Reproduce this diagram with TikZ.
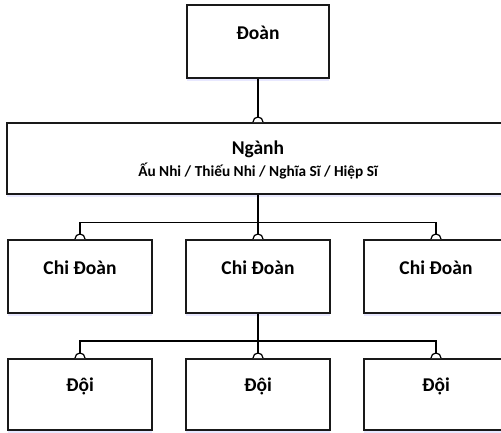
\documentclass[tikz,border=0pt]{standalone}
\usepackage{fontspec}
\setmainfont{Carlito}
\usetikzlibrary{shadows}
\begin{document}
\begin{tikzpicture}[x=1pt,y=-1pt,
  box/.style={draw=black!90, line width=1.8pt, fill=white, minimum width=144pt, minimum height=73pt, anchor=north, inner sep=0pt,
    drop shadow={opacity=0.45, fill=blue!20!white, shadow xshift=0pt, shadow yshift=-3.5pt}},
  lbl/.style={font=\bfseries\fontsize{19.5}{22}\selectfont, anchor=center},
  conn/.style={draw=black, line width=1.4pt},
  jump/.style={draw=black, line width=1.2pt}]
\useasboundingbox (0,0) rectangle (501,432);
% boxes
\node[box, minimum width=142pt] (doan) at (258,4) {};
\node[box, minimum width=502pt, minimum height=71pt] (nganh) at (258,122) {};
\node[box] (c1) at (80,239) {};
\node[box] (c2) at (258,239) {};
\node[box] (c3) at (436,239) {};
\node[box, minimum height=71pt] (d1) at (80,358) {};
\node[box, minimum height=71pt] (d2) at (258,358) {};
\node[box, minimum height=71pt] (d3) at (436,358) {};
% labels
\node[lbl] (tdoan) at (258,33) {Đoàn};
\node[lbl] (tnganh) at (258,149) {Ngành};
\node[font=\bfseries\fontsize{15.3}{17}\selectfont] (tsub) at (258,171) {Ấu Nhi / Thiếu Nhi / Nghĩa Sĩ / Hiệp Sĩ};
\node[lbl] (tc1) at (80,268) {Chi Đoàn};
\node[lbl] (tc2) at (258,268) {Chi Đoàn};
\node[lbl] (tc3) at (436,268) {Chi Đoàn};
\node[lbl] (td1) at (80,386) {Đội};
\node[lbl] (td2) at (258,386) {Đội};
\node[lbl] (td3) at (436,386) {Đội};
% connectors
\coordinate (bus1) at (258,222.5);
\coordinate (bus2) at (258,341);
\draw[conn] (doan.south) -- (nganh.north);
\draw[conn, line width=1.6pt] (nganh.south) -- (bus1);
\draw[conn] (c1.north) -- (c1.north |- bus1) -- (c3.north |- bus1) -- (c3.north);
\draw[conn] (c2.north) -- (bus1);
\draw[conn, line width=2pt] (c2.south) -- (bus2);
\draw[conn] (d1.north) -- (d1.north |- bus2) -- (d3.north |- bus2) -- (d3.north);
\draw[conn] (d2.north) -- (bus2);
% jump marks
\foreach \n in {nganh,c1,c2,c3,d1,d2,d3}{
  \draw[jump, fill=white] ([xshift=-5pt]\n.north) arc[start angle=180, end angle=0, radius=5pt];
}
\end{tikzpicture}
\end{document}
